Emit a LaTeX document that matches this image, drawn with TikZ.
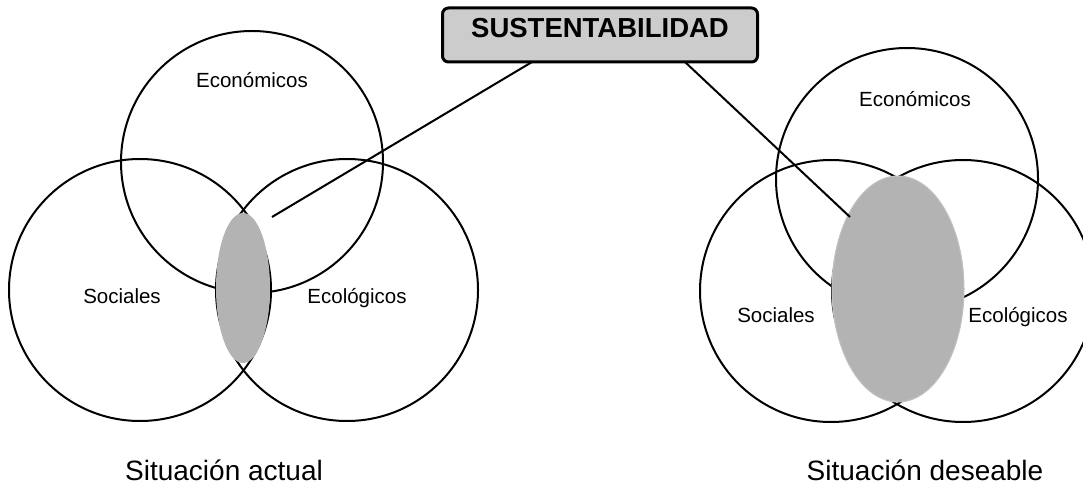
\documentclass[tikz,border=0pt]{standalone}
\usepackage{fontspec}
\setmainfont{Liberation Sans}
\usetikzlibrary{shapes.geometric}

\definecolor{lensgray}{HTML}{B3B3B3}
\definecolor{lensedge}{HTML}{C2C2C2}
\definecolor{boxgray}{HTML}{CCCCCC}

\begin{document}
\begin{tikzpicture}[x=1pt,y=-1pt,
  circ/.style={draw, circle, line width=2pt, minimum size=262pt, inner sep=0pt},
  lens/.style={ellipse, fill=lensgray, inner sep=0pt},
  lbl/.style={anchor=base, font=\fontsize{20.5}{24}\selectfont},
  caption/.style={anchor=base, font=\fontsize{28}{32}\selectfont}]

\useasboundingbox (0,0) rectangle (1083,486);

% situacion actual
\node[circ] (ecoA) at (252,162) {};
\node[circ] (socA) at (140,290) {};
\node[circ] (ecolA) at (347,290) {};
\node[lens, minimum width=54pt, minimum height=150pt] (lensA) at (243,288) {};

% situacion deseable
\node[circ] (ecoB) at (907,179) {};
\node[circ] (socB) at (831,291) {};
\node[circ] (ecolB) at (963,291) {};
\node[lens, draw=lensedge, line width=1pt, minimum width=132pt, minimum height=226pt] (lensB) at (898,289) {};

% title and its two lines
\coordinate (tieA) at (532,62);
\coordinate (tieB) at (685,62);
\coordinate (endA) at (272,217);
\coordinate (endB) at (850,217);
\draw[line width=2pt] (tieA) -- (endA);
\draw[line width=2pt] (tieB) -- (endB);

\node[draw, fill=boxgray, line width=3pt, rounded corners=6pt,
      minimum width=315pt, minimum height=54pt, inner sep=0pt,
      text height=20pt, text depth=14pt,
      font=\fontsize{27.5}{30}\selectfont\bfseries] (title) at (600,35) {SUSTENTABILIDAD};

% labels
\node[lbl] (tEcoA) at (252,88) {Económicos};
\node[lbl] (tSocA) at (122,303) {Sociales};
\node[lbl] (tEcolA) at (357,303) {Ecológicos};
\node[lbl] (tEcoB) at (915,107) {Económicos};
\node[lbl] (tSocB) at (776,322) {Sociales};
\node[lbl] (tEcolB) at (1018,322) {Ecológicos};

\node[caption] (capA) at (224,480) {Situación actual};
\node[caption] (capB) at (925,480) {Situación deseable};

\end{tikzpicture}
\end{document}
